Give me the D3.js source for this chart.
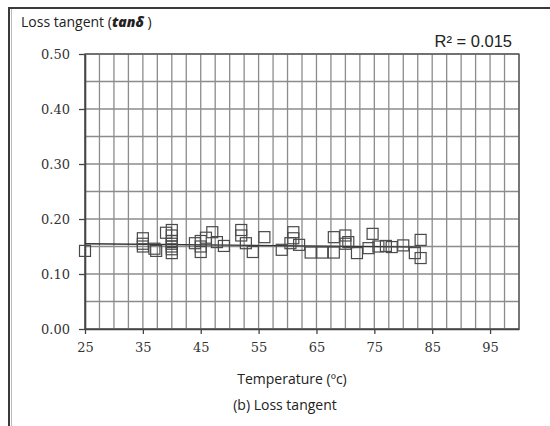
<!DOCTYPE html>
<html>
<head>
<meta charset="utf-8">
<script src="https://cdn.jsdelivr.net/npm/d3@7/dist/d3.min.js"></script>
<style>
  html, body { margin: 0; padding: 0; background: #fff; }
  svg { display: block; }
</style>
</head>
<body>
<svg id="chart" width="550" height="426"></svg>
<script>
// Temperature (°C) and measured loss tangent for each sample
const temperature = [25, 35, 35, 35, 37, 37.3, 39, 40, 40, 40, 40, 40, 40, 40,
  44, 45, 45, 45, 45.9, 47, 47.8, 49, 52, 52, 52.8, 54, 56, 59,
  60.5, 61, 61, 62, 64, 66, 68, 68, 70, 70, 70.5, 72, 74, 74.7, 75.7, 77,
  78, 80, 82, 83, 83];
const lossTangent = [0.142, 0.165, 0.155, 0.150, 0.146, 0.142, 0.175, 0.180, 0.170, 0.160, 0.155, 0.150, 0.145, 0.138,
  0.156, 0.160, 0.150, 0.140, 0.166, 0.176, 0.158, 0.151, 0.180, 0.170, 0.156, 0.140, 0.167, 0.144,
  0.156, 0.176, 0.165, 0.153, 0.139, 0.139, 0.167, 0.139, 0.170, 0.155, 0.158, 0.138, 0.147, 0.173, 0.150, 0.151,
  0.149, 0.152, 0.138, 0.162, 0.129];

// Linear fit endpoints (R² = 0.015)
const fitTemperature = [25, 83];
const fitLossTangent = [0.155, 0.149];

const xTicks = [25, 35, 45, 55, 65, 75, 85, 95];
const yTicks = [0, 0.1, 0.2, 0.3, 0.4, 0.5];
const xGrid = d3.range(25, 100.01, 2.5);
const yGrid = d3.range(0, 0.5001, 0.05);

const svg = d3.select("#chart");
const x = d3.scaleLinear().domain([25, 100]).range([85, 519]);
const y = d3.scaleLinear().domain([0, 0.5]).range([329, 54]);

// outer frame
svg.append("rect")
  .attr("x", 9).attr("y", 8).attr("width", 560).attr("height", 440)
  .attr("fill", "none").attr("stroke", "#3a3a3a").attr("stroke-width", 2);
svg.append("line")
  .attr("x1", 11.5).attr("x2", 11.5).attr("y1", 9).attr("y2", 426)
  .attr("stroke", "#bbb").attr("stroke-width", 1);

// grid
const grid = svg.append("g");
grid.selectAll("line.v").data(xGrid).join("line")
  .attr("class", "v")
  .attr("x1", d => x(d)).attr("x2", d => x(d))
  .attr("y1", y(0.5)).attr("y2", y(0))
  .attr("stroke", "#8c8c8c").attr("stroke-width", 1.3);
grid.selectAll("line.h").data(yGrid).join("line")
  .attr("class", "h")
  .attr("x1", x(25)).attr("x2", x(100))
  .attr("y1", d => y(d)).attr("y2", d => y(d))
  .attr("stroke", "#8c8c8c").attr("stroke-width", 1.3);

// plot border
svg.append("rect")
  .attr("x", x(25)).attr("y", y(0.5))
  .attr("width", x(100) - x(25)).attr("height", y(0) - y(0.5))
  .attr("fill", "none").attr("stroke", "#555").attr("stroke-width", 1.3);

// axes
const xAxis = svg.append("g")
  .attr("transform", `translate(0,${y(0)})`)
  .call(d3.axisBottom(x).tickValues(xTicks).tickSize(5).tickSizeOuter(0).tickPadding(9).tickFormat(d3.format("d")));
const yAxis = svg.append("g")
  .attr("transform", `translate(${x(25)},0)`)
  .call(d3.axisLeft(y).tickValues(yTicks).tickSize(6).tickSizeOuter(0).tickPadding(9).tickFormat(d3.format(".2f")));
[xAxis, yAxis].forEach(a => {
  a.select(".domain").attr("stroke", "#444").attr("stroke-width", 1.6);
  a.selectAll(".tick line").attr("stroke", "#444").attr("stroke-width", 1.3);
  a.selectAll(".tick text")
    .attr("fill", "#333")
    .style("font-family", "'DejaVu Serif', 'Liberation Serif', serif")
    .style("font-size", "13px");
});

// fit line
svg.append("line")
  .attr("x1", x(fitTemperature[0])).attr("y1", y(fitLossTangent[0]))
  .attr("x2", x(fitTemperature[1])).attr("y2", y(fitLossTangent[1]))
  .attr("stroke", "#333").attr("stroke-width", 1.3);

// sample markers
const s = 11;
svg.append("g").selectAll("rect").data(temperature).join("rect")
  .attr("x", (d) => x(d) - s / 2)
  .attr("y", (d, i) => y(lossTangent[i]) - s / 2)
  .attr("width", s).attr("height", s)
  .attr("fill", "none").attr("stroke", "#4a4a4a").attr("stroke-width", 1.2);

// texts
const sans = "'Open Sans', Lato, 'Liberation Sans', sans-serif";
const title = svg.append("text")
  .attr("x", 21).attr("y", 27)
  .attr("fill", "#222")
  .style("font-family", sans).style("font-size", "14px");
title.append("tspan").text("Loss tangent (");
title.append("tspan").text("tan").style("font-weight", "900").style("font-style", "italic");
title.append("tspan").text("δ").style("font-weight", "900").style("font-style", "italic");
title.append("tspan").text(" )");

svg.append("text")
  .attr("x", 512).attr("y", 47).attr("text-anchor", "end")
  .attr("fill", "#222")
  .style("font-family", "'Liberation Sans', Arial, sans-serif").style("font-size", "16.5px")
  .text("R² = 0.015");

svg.append("text")
  .attr("x", 292).attr("y", 384).attr("text-anchor", "middle")
  .attr("fill", "#222")
  .style("font-family", sans).style("font-size", "14px")
  .text("Temperature (ºc)");

svg.append("text")
  .attr("x", 285).attr("y", 410).attr("text-anchor", "middle")
  .attr("fill", "#222")
  .style("font-family", sans).style("font-size", "14px")
  .text("(b) Loss tangent");
</script>
</body>
</html>
